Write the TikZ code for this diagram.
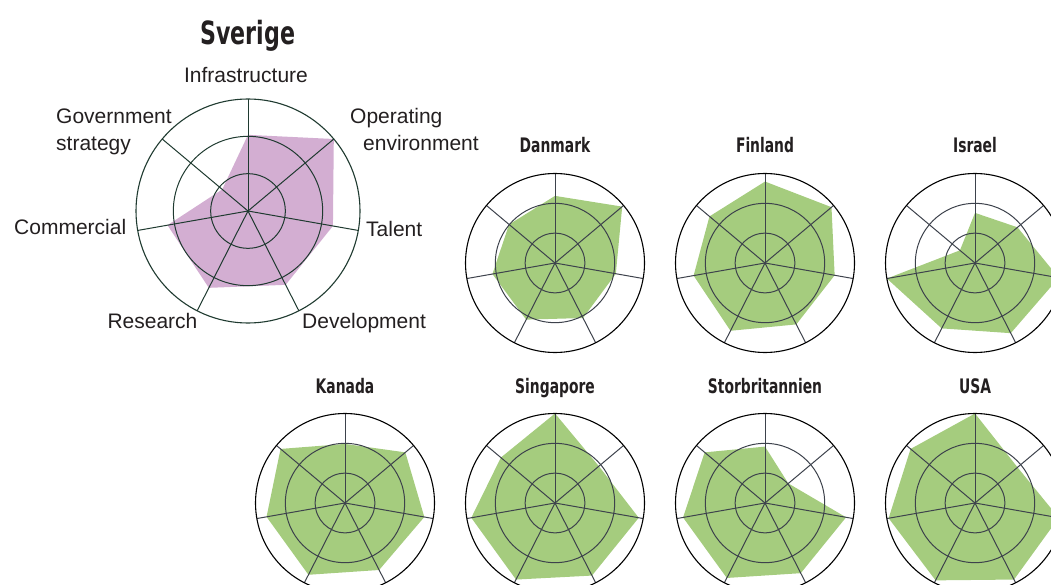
\documentclass[tikz,border=0pt]{standalone}
\usepackage{fontspec}
\setmainfont{Liberation Sans}
\newfontfamily\headfont{DejaVu Sans Condensed Bold}[FakeStretch=0.77]
\usetikzlibrary{calc}
\definecolor{ink}{HTML}{231F20}
\definecolor{lilac}{HTML}{D3AED2}
\definecolor{leaf}{HTML}{A5CC7E}
\definecolor{pine}{HTML}{1F3A30}
\definecolor{slate}{HTML}{3D424C}
\begin{document}
\begin{tikzpicture}[x=1pt,y=1pt]
        \tikzstyle{every node}=[text=ink, inner sep=0pt];
        \tikzstyle{axislabel}=[font=\fontsize{21}{25}\selectfont, anchor=base west];
        \tikzstyle{bigtitle}=[font=\headfont\fontsize{32}{32}\selectfont];
        \tikzstyle{smalltitle}=[font=\headfont\fontsize{20}{20}\selectfont];
        \useasboundingbox (0,0) rectangle (1051,-585);
        \clip (0,0) rectangle (1051,-585);
        % one radar per country: centre, radius, colours, title, values
        \foreach \cx/\cy/\rad/\fillc/\linec/\rimc/\tsty/\toff/\name/\vals in {
            248/-211/112/lilac/pine/pine/bigtitle/166/Sverige/{0.68,1.0,0.77,0.74,0.77,0.73,0.30},
            555/-263/89.5/leaf/slate/black/smalltitle/110/Danmark/{0.75,0.98,0.69,0.69,0.71,0.71,0.67},
            765/-263/89.5/leaf/slate/black/smalltitle/110/Finland/{0.91,0.97,0.79,0.77,0.85,0.81,0.81},
            975/-263/89.5/leaf/slate/black/smalltitle/110/Israel/{0.56,0.62,0.95,0.88,0.82,1.0,0.22},
            345/-503/89.5/leaf/slate/black/smalltitle/110/Kanada/{0.66,0.88,0.90,0.84,0.90,0.89,0.94},
            555/-503/89.5/leaf/slate/black/smalltitle/110/Singapore/{1.0,0.64,0.95,0.91,0.96,0.95,0.79},
            765/-503/89.5/leaf/slate/black/smalltitle/110/Storbritannien/{0.63,0.34,0.92,0.88,0.94,0.93,0.88},
            975/-503/89.5/leaf/slate/black/smalltitle/110/USA/{1.0,0.62,0.95,0.96,0.97,0.98,0.94}} {
            \foreach \v [count=\i] in \vals {
                \pgfmathsetmacro\ang{{90,40,-10,-63,-117,-170,140}[\i-1]}
                \coordinate (v\i) at ($(\cx,\cy)+(\ang:\v*\rad)$);
            }
            \fill[\fillc] (v1) -- (v2) -- (v3) -- (v4) -- (v5) -- (v6) -- (v7) -- cycle;
            \draw[\linec, line width=1pt] (\cx,\cy) circle (\rad/3) circle (2*\rad/3);
            \foreach \ang in {90,40,-10,-63,-117,-170,140}
                \draw[\linec, line width=1pt] (\cx,\cy) -- ++(\ang:\rad);
            \draw[\rimc, line width=1.1pt] (\cx,\cy) circle (\rad);
            \node[\tsty, anchor=base] (title-\name) at (\cx,\cy+\toff) {\name};
        }
        \node[axislabel, anchor=base] (infra) at (246,-83) {Infrastructure};
        \node[axislabel] (oper) at (350,-124) {Operating};
        \node[axislabel] (oper2) at (363,-150.7) {environment};
        \node[axislabel] (talent) at (366,-236.7) {Talent};
        \node[axislabel] (devel) at (302,-328.3) {Development};
        \node[axislabel] (research) at (107.3,-328.3) {Research};
        \node[axislabel] (commerc) at (14,-235) {Commercial};
        \node[axislabel] (gov) at (56,-124) {Government};
        \node[axislabel] (gov2) at (56,-150.5) {strategy};
    \end{tikzpicture}
\end{document}
